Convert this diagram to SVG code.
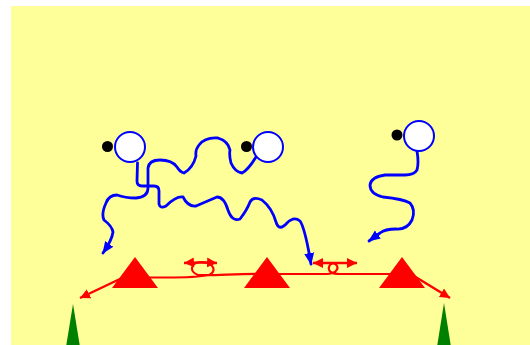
<svg xmlns="http://www.w3.org/2000/svg" width="530" height="345" viewBox="0 0 530 345">
  <style>
    .field { fill: #ffff99; }
    .player { fill: #ffffff; stroke: #0000ff; stroke-width: 2; }
    .dot { fill: #000000; }
    .cone { fill: #ff0000; }
    .tree { fill: #008000; }
    .run { fill: none; stroke: #0000ff; stroke-width: 2.8; stroke-linecap: round; stroke-linejoin: round; marker-end: url(#blueArrow); }
    .pass { fill: none; stroke: #ff0000; stroke-width: 2.2; stroke-linecap: round; }
    .redArrow { fill: none; stroke: #ff0000; stroke-width: 2.4; marker-end: url(#redHead); }
    .dbl { fill: none; stroke: #ff0000; stroke-width: 2.4; marker-start: url(#redHeadStart); marker-end: url(#redHead); }
  </style>
  <defs>
    <marker id="blueArrow" markerUnits="userSpaceOnUse" markerWidth="14" markerHeight="12" refX="11" refY="5" orient="auto">
      <path d="M0,0 L12,5 L0,10 Z" fill="#0000ff"/>
    </marker>
    <marker id="redHead" markerUnits="userSpaceOnUse" markerWidth="12" markerHeight="12" refX="10" refY="5" orient="auto">
      <path d="M0,0 L10,5 L0,10 Z" fill="#ff0000"/>
    </marker>
    <marker id="redHeadStart" markerUnits="userSpaceOnUse" markerWidth="12" markerHeight="12" refX="0" refY="5" orient="auto">
      <path d="M10,0 L0,5 L10,10 Z" fill="#ff0000"/>
    </marker>
  </defs>

  <rect class="field" x="11" y="6" width="519" height="339"/>

  <g id="connectors">
    <path class="pass" d="M135,277 C170,278 195,278 209,275 C217,272 214,262 202,262 C190,262 189,272 198,275 C215,276 240,273 267,274 L327,274 C334,274 339,270 337,266 C335,262 330,263 329,267 C328,271 331,274 340,274 L402,274"/>
    <path class="dbl" d="M184,263 Q200,262 217,263"/>
    <path class="dbl" d="M313,263 L357,263"/>
    <path class="redArrow" d="M122,278 L80,298"/>
    <path class="redArrow" d="M414,276 L450,298"/>
    <path class="run" d="M137.5,163 L137,181 Q137,186 142,186 L154,186 Q159,186 159,191 L159,204 Q160,209 166,206 Q176,196 183,197 Q188,207 196,206 Q210,200 217,197 Q224,197 228,210 Q232,222 240,219 Q247,210 250,202 Q253,196 262,200 Q272,208 276,222 Q279,232 287,223 Q294,216 300,221 Q305,228 311,264"/>
    <path class="run" d="M256,157 Q248,170 242,173 Q235,172 231,163 Q229,155 230,150 Q228,141 218,138 Q205,137 199,145 Q195,150 196,156 Q193,168 184,173 Q180,172 177,167 Q172,160 160,160 Q149,160 148,168 L148,188 Q148,197 136,198 Q125,198 117,195 Q109,195 106,203 Q101,214 104,220 Q112,226 113,232 Q112,240 103,253"/>
    <path class="run" d="M417,151 Q419,163 417,170 Q414,175 405,175 L385,175 Q371,177 370,185 Q370,194 383,197 Q403,199 410,203 Q416,210 412,220 Q407,230 396,229 Q385,229 380,233 L369,241"/>
  </g>

  <g id="player1">
    <circle class="dot" cx="107.5" cy="146.5" r="5.5"/>
    <circle class="player" cx="130" cy="147" r="15"/>
  </g>
  <g id="player2">
    <circle class="dot" cx="246.5" cy="146.5" r="5.5"/>
    <circle class="player" cx="268" cy="147" r="15"/>
  </g>
  <g id="player3">
    <circle class="dot" cx="397" cy="135" r="5.5"/>
    <circle class="player" cx="419" cy="136" r="15"/>
  </g>

  <g id="cone1"><polygon class="cone" points="135,257 112,288 158,288"/></g>
  <g id="cone2"><polygon class="cone" points="267,257 244,288 290,288"/></g>
  <g id="cone3"><polygon class="cone" points="402,257 379,288 425,288"/></g>

  <g id="post1"><polygon class="tree" points="73,304 65.5,350 80.5,350"/></g>
  <g id="post2"><polygon class="tree" points="444,303 436.5,350 451.5,350"/></g>
</svg>
